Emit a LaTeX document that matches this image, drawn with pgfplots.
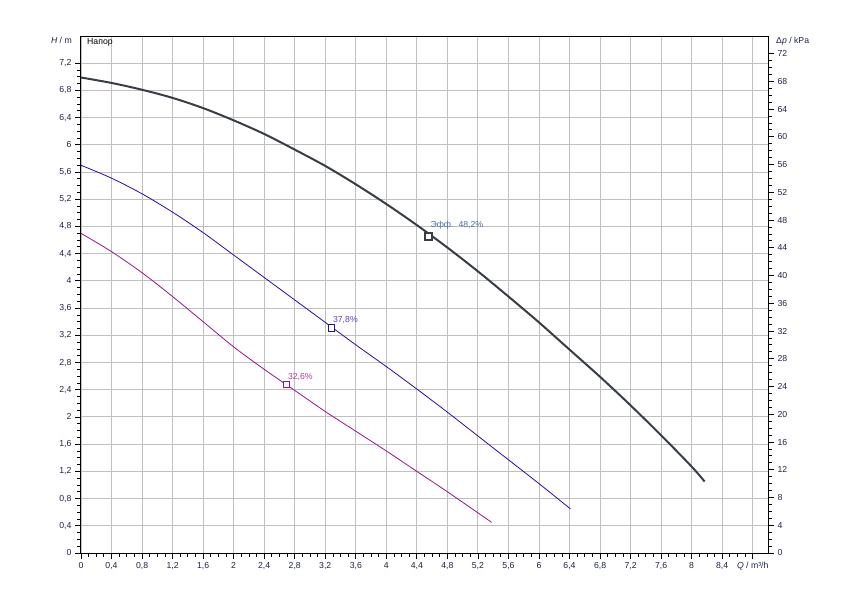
\documentclass[border=0pt]{standalone}
\usepackage{fontspec}
\setmainfont{Liberation Sans}
\usepackage{pgfplots}
\pgfplotsset{compat=1.18}
\definecolor{tickc}{RGB}{28,36,72}
\definecolor{gridc}{RGB}{192,192,192}
\definecolor{c1}{RGB}{56,62,70}
\definecolor{c2}{RGB}{32,16,168}
\definecolor{c3}{RGB}{150,20,140}
\definecolor{l1}{RGB}{70,110,170}
\definecolor{l2}{RGB}{80,70,200}
\definecolor{l3}{RGB}{180,60,150}
\pgfplotsset{
  base/.style={
    at={(0,0)}, anchor=south west,
    scale only axis, width=687bp, height=517bp,
    xmin=0, xmax=9,
    tick align=outside,
    major tick length=6bp, minor tick length=3.5bp,
    tick style={black, line width=0.8bp},
    axis line style={black, line width=1bp},
    ticklabel style={font=\fontsize{8.7bp}{10bp}\selectfont, text=tickc},
  }
}
\begin{document}
\begin{tikzpicture}[font=\fontsize{8.7bp}{10bp}\selectfont]
\useasboundingbox (-81bp,-47bp) rectangle (769bp,553bp);
\begin{axis}[base,
  ymin=0, ymax=7.6,
  xtick={0,0.4,0.8,1.2,1.6,2,2.4,2.8,3.2,3.6,4,4.4,4.8,5.2,5.6,6,6.4,6.8,7.2,7.6,8,8.4,8.8},
  xticklabels={0,{0,4},{0,8},{1,2},{1,6},2,{2,4},{2,8},{3,2},{3,6},4,{4,4},{4,8},{5,2},{5,6},6,{6,4},{6,8},{7,2},{7,6},8,{8,4},{\textit{Q} / m³/h}},
  ytick={0,0.4,0.8,1.2,1.6,2,2.4,2.8,3.2,3.6,4,4.4,4.8,5.2,5.6,6,6.4,6.8,7.2},
  yticklabels={0,{0,4},{0,8},{1,2},{1,6},2,{2,4},{2,8},{3,2},{3,6},4,{4,4},{4,8},{5,2},{5,6},6,{6,4},{6,8},{7,2}},
  minor x tick num=3, minor y tick num=3,
  xtick pos=lower, ytick pos=lower,
  grid=major, major grid style={gridc, line width=0.9bp},
  clip=false,
]
\addplot[c1, line width=2bp, smooth] coordinates {
(0,6.99) (0.4,6.91) (0.8,6.81) (1.2,6.69) (1.6,6.54) (2.0,6.36) (2.4,6.16) (2.8,5.93)
(3.2,5.69) (3.6,5.42) (4.0,5.13) (4.4,4.82) (4.8,4.49) (5.2,4.14) (5.6,3.77) (6.0,3.39)
(6.4,2.99) (6.8,2.59) (7.2,2.17) (7.6,1.73) (8.0,1.27) (8.17,1.05)};
\addplot[c2, line width=0.8bp, smooth] coordinates {
(0,5.70) (0.4,5.51) (0.8,5.28) (1.2,5.01) (1.6,4.71) (2.0,4.38) (2.4,4.05) (2.8,3.72)
(3.2,3.39) (3.6,3.06) (4.0,2.74) (4.4,2.41) (4.8,2.07) (5.2,1.72) (5.6,1.37) (6.0,1.02) (6.41,0.65)};
\addplot[c3, line width=0.8bp, smooth] coordinates {
(0,4.70) (0.4,4.43) (0.8,4.12) (1.2,3.77) (1.6,3.40) (2.0,3.03) (2.4,2.70) (2.8,2.39)
(3.2,2.08) (3.6,1.79) (4.0,1.50) (4.4,1.20) (4.8,0.90) (5.38,0.45)};
\addplot[only marks, mark=square*, mark size=3.5bp, mark options={draw=c1, fill=white, line width=1.6bp}] coordinates {(4.55,4.65)};
\addplot[only marks, mark=square*, mark size=3.2bp, mark options={draw=c2, fill=white, line width=0.9bp}] coordinates {(3.28,3.31)};
\addplot[only marks, mark=square*, mark size=3.2bp, mark options={draw=c3, fill=white, line width=0.9bp}] coordinates {(2.69,2.48)};
\node[anchor=west, text=l1, inner sep=0pt] at (axis cs:4.55,4.65) [xshift=2bp, yshift=11bp] {Эфф.\hspace{5bp}48,2\%};
\node[anchor=west, text=l2, inner sep=0pt] at (axis cs:3.28,3.31) [xshift=1.5bp, yshift=7.5bp] {37,8\%};
\node[anchor=west, text=l3, inner sep=0pt] at (axis cs:2.69,2.48) [xshift=1.5bp, yshift=7.5bp] {32,6\%};
\node[anchor=east, text=tickc, inner sep=0pt] at (axis cs:0,7.53) [xshift=-9bp] {\textit{H} / m};
\node[anchor=west, text=black, inner sep=0pt] at (axis cs:0,7.51) [xshift=6bp] {Напор};
\node[anchor=west, text=tickc, inner sep=0pt] at (axis cs:9,7.53) [xshift=8bp] {Δ\textit{p} / kPa};
\end{axis}
\begin{axis}[base,
  ymin=0, ymax=74.53,
  axis x line=none, axis y line*=right,
  ytick={0,4,8,12,16,20,24,28,32,36,40,44,48,52,56,60,64,68,72},
  yticklabels={0,4,8,12,16,20,24,28,32,36,40,44,48,52,56,60,64,68,72},
  minor y tick num=3,
  yticklabel style={anchor=west},
]
\addplot[draw=none] coordinates {(0,0)};
\end{axis}
\end{tikzpicture}
\end{document}
